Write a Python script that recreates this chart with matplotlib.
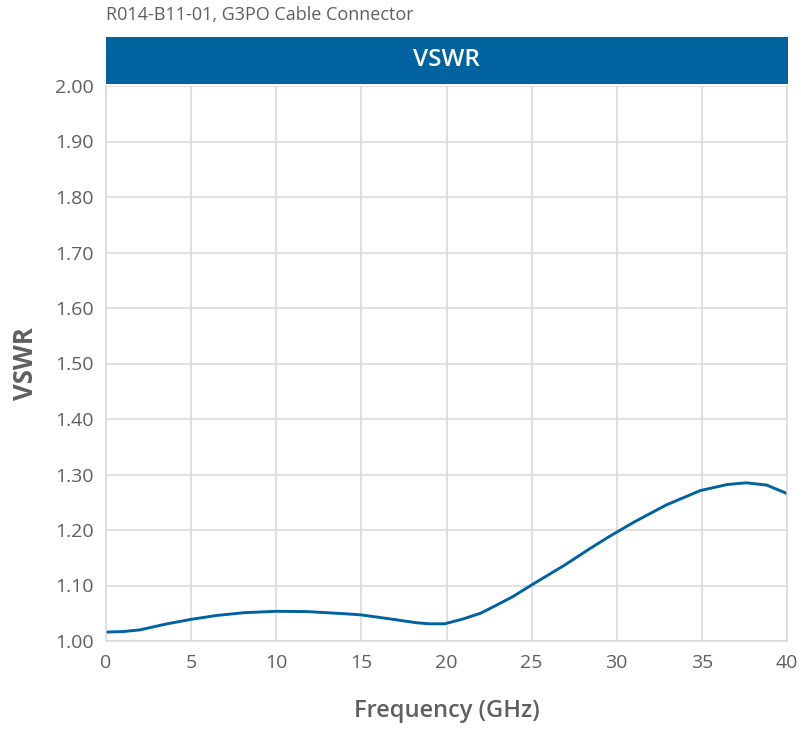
import matplotlib.pyplot as plt
from matplotlib.patches import Rectangle

#===============================================================================
# values
freq_ghz = [0, 1.0, 2.0, 3.0, 3.6, 5.0, 6.5, 8.1, 10.0, 11.8, 14.1, 15.0, 17.1,
            18.2, 19.0, 19.9, 21.0, 22.0, 22.9, 23.9, 25.0, 26.9, 28.4, 29.6,
            31.0, 32.9, 34.9, 36.5, 37.6, 38.8, 39.9, 40.0]
vswr = [1.016, 1.017, 1.020, 1.027, 1.031, 1.039, 1.046, 1.051, 1.0535, 1.053,
        1.049, 1.047, 1.038, 1.033, 1.031, 1.031, 1.040, 1.050, 1.064, 1.080,
        1.101, 1.136, 1.166, 1.189, 1.214, 1.245, 1.271, 1.282, 1.285, 1.281,
        1.267, 1.265]

x_ticks = [0, 5, 10, 15, 20, 25, 30, 35, 40]
y_ticks = [1.00, 1.10, 1.20, 1.30, 1.40, 1.50, 1.60, 1.70, 1.80, 1.90, 2.00]

subtitle = "R014-B11-01, G3PO Cable Connector"
title = "VSWR"
x_label = "Frequency (GHz)"
y_label = "VSWR"

#===============================================================================
BLUE = "#0063a0"
GREY_TEXT = "#5f5f5f"
GRID = "#d9d9d9"

plt.rcParams["font.family"] = ["Open Sans", "DejaVu Sans"]

W, H = 801, 729
fig = plt.figure(figsize=(W / 100, H / 100), dpi=100)

left, right, top, bottom = 106, 787, 86, 641
ax = fig.add_axes([left / W, 1 - bottom / H, (right - left) / W, (bottom - top) / H])

ax.plot(freq_ghz, vswr, color=BLUE, lw=2.1, solid_capstyle="round",
        solid_joinstyle="round")

ax.set_xlim(0, 40)
ax.set_ylim(1.0, 2.0)
ax.set_xticks(x_ticks)
ax.set_yticks(y_ticks)
ax.set_xticklabels([str(t) for t in x_ticks])
ax.set_yticklabels([f"{t:.2f}" for t in y_ticks])
ax.grid(True, color=GRID, lw=1.1)
ax.set_axisbelow(True)
ax.tick_params(length=0, labelsize=14, labelcolor=GREY_TEXT, pad=9)

for side in ["left", "bottom", "right"]:
    ax.spines[side].set_color(GRID)
    ax.spines[side].set_linewidth(1.1)
ax.spines["top"].set_visible(False)

ax.set_xlabel(x_label, fontsize=17, color=GREY_TEXT, fontweight="semibold", labelpad=20)
ax.set_ylabel(y_label, fontsize=18.5, color=GREY_TEXT, fontweight="bold", labelpad=11)

# title bar
bar_top, bar_bottom = 37, 84
fig.patches.append(Rectangle((left / W, 1 - bar_bottom / H), (right + 1 - left) / W,
                             (bar_bottom - bar_top) / H, transform=fig.transFigure,
                             facecolor=BLUE, edgecolor="none"))
fig.text((left + right) / 2 / W, 1 - (bar_top + bar_bottom) / 2 / H, title,
         color="white", fontsize=17.5, fontweight="semibold", ha="center", va="center")

fig.text(left / W, 1 - 15 / H, subtitle, color=GREY_TEXT, fontsize=13,
         ha="left", va="center")

fig.savefig("out.png", dpi=100)
